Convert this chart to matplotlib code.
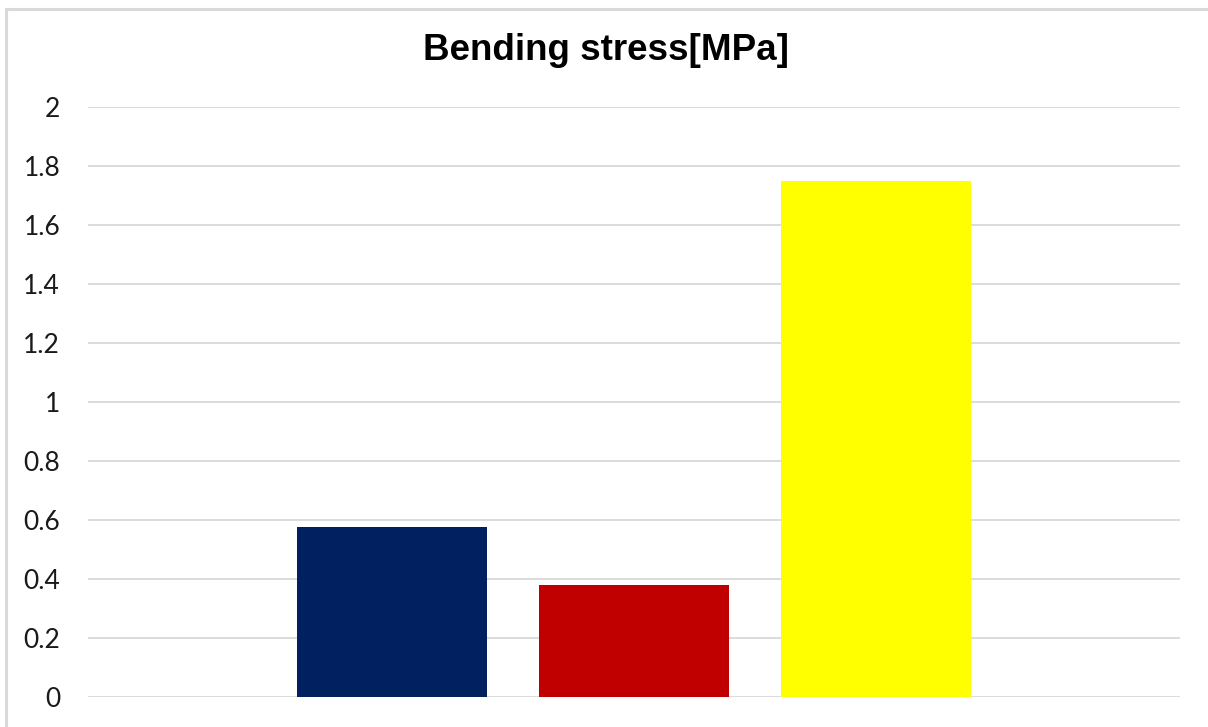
import matplotlib
matplotlib.use('Agg')
import matplotlib.pyplot as plt
from matplotlib.patches import Rectangle

# Bending stress per sample (MPa)
samples = ['Sample 1', 'Sample 2', 'Sample 3']
stress = [0.575, 0.38, 1.75]
colors = ['#002060', '#C00000', '#FFFF00']
yticks = [0, 0.2, 0.4, 0.6, 0.8, 1, 1.2, 1.4, 1.6, 1.8, 2]
ytick_labels = ['0', '0.2', '0.4', '0.6', '0.8', '1', '1.2', '1.4', '1.6', '1.8', '2']

W, H = 1208, 727
fig = plt.figure(figsize=(W / 100, H / 100), dpi=100)
fig.patch.set_facecolor('white')

# light frame around the chart area
fig.patches.append(Rectangle((6 / W, -0.01), 1.1, 1 - 9 / H + 0.01, transform=fig.transFigure,
                             fill=False, edgecolor='#D9D9D9', linewidth=2.2))

left, right = 88 / W, 1180 / W
bottom, top = 1 - 697 / H, 1 - 107 / H
ax = fig.add_axes([left, bottom, right - left, top - bottom])

x = [-1, 0, 1]
ax.bar(x, stress, width=0.787, color=colors, zorder=3)

ax.set_xlim(-2.26, 2.26)
ax.set_ylim(0, 2)
ax.set_yticks(yticks)
ax.set_yticklabels(ytick_labels, fontsize=19, family=['Lato', 'DejaVu Sans'], color='#1a1a1a')
ax.set_xticks([])
ax.tick_params(axis='y', length=0, pad=20)
ax.yaxis.grid(True, color='#D9D9D9', linewidth=1.3, zorder=0)
for sp in ax.spines.values():
    sp.set_visible(False)

fig.text(606 / W, 1 - 51 / H, 'Bending stress[MPa]', ha='center', va='center',
         fontsize=26.5, fontweight='bold', family=['Liberation Sans', 'DejaVu Sans'])

fig.savefig('out.png', dpi=100)
